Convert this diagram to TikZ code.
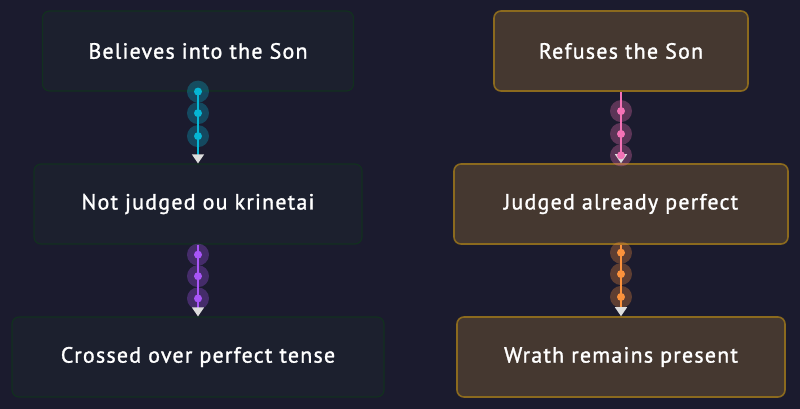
\documentclass[tikz,border=0pt]{standalone}
\usepackage{fontspec}
\setmainfont{PT Sans}[LetterSpace=5.5, FakeBold=1.3]
\usetikzlibrary{arrows.meta,positioning}
\definecolor{bgnavy}{HTML}{1B1B2E}
\definecolor{belfill}{HTML}{1C202E}
\definecolor{beldraw}{HTML}{12301F}
\definecolor{reffill}{HTML}{453830}
\definecolor{refdraw}{HTML}{8B6A1E}
\definecolor{tipgray}{HTML}{DDDDDD}
\definecolor{dotcyan}{HTML}{06B6D4}
\definecolor{dotpurple}{HTML}{A855F7}
\definecolor{dotpink}{HTML}{F472B6}
\definecolor{dotorange}{HTML}{FB923C}

\begin{document}
\begin{tikzpicture}[x=1pt, y=-1pt,
    believe/.style={draw=beldraw, fill=belfill, line width=1.2pt, rounded corners=7pt,
        minimum height=80pt, text=white, font=\fontsize{22}{26}\selectfont},
    refuse/.style={draw=refdraw, fill=reffill, line width=1.6pt, rounded corners=7pt,
        minimum height=80pt, text=white, font=\fontsize{22}{26}\selectfont},
    flow/.style={line width=1.3pt, draw=#1,
        -{Triangle[color=tipgray, width=12pt, length=9pt]}},
    bead/.style={circle, fill=#1, inner sep=0pt, minimum size=8pt},
    halo/.style={circle, fill=#1, fill opacity=0.3, inner sep=0pt, minimum size=22pt}
]
    \fill[bgnavy] (0, 0) rectangle (800, 409);

    % left column
    \node[believe, minimum width=311pt] (believes) at (198, 51) {Believes into the Son};
    \node[believe, minimum width=328pt] (notjudged) at (198, 204) {Not judged ou krinetai};
    \node[believe, minimum width=372pt] (crossed) at (198, 357) {Crossed over perfect tense};

    % right column
    \node[refuse, minimum width=254pt] (refuses) at (621, 51) {Refuses the Son};
    \node[refuse, minimum width=334pt] (judged) at (621, 204) {Judged already perfect};
    \node[refuse, minimum width=328pt] (wrath) at (621, 357) {Wrath remains present};

    % connectors with beads
    \foreach \from/\to/\col/\pa/\pb/\pc in {
        believes/notjudged/dotcyan/0/0.3/0.62,
        notjudged/crossed/dotpurple/0.14/0.44/0.75,
        refuses/judged/dotpink/0.27/0.59/0.89,
        judged/wrath/dotorange/0.11/0.41/0.73} {
        \path (\from.south) -- (\to.north)
            node[halo=\col, pos=\pa] {} node[halo=\col, pos=\pb] {} node[halo=\col, pos=\pc] {};
        \draw[flow=\col] (\from.south) -- (\to.north)
            node[bead=\col, pos=\pa] {} node[bead=\col, pos=\pb] {} node[bead=\col, pos=\pc] {};
    }
\end{tikzpicture}
\end{document}
